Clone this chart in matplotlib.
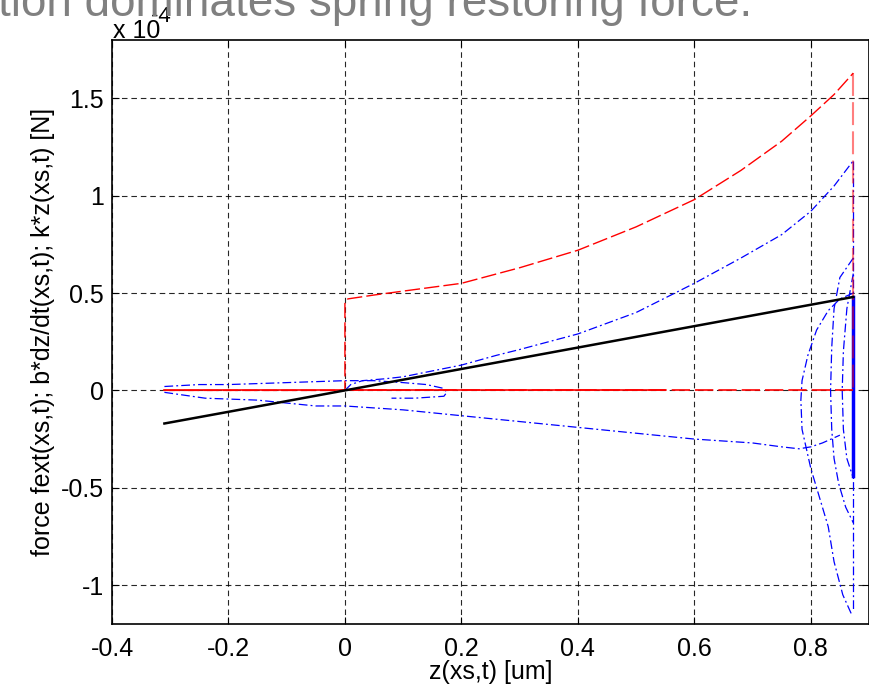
import matplotlib
matplotlib.use('Agg')
import matplotlib.pyplot as plt

plt.rcParams['font.family'] = ['Liberation Sans', 'DejaVu Sans']

# forces are in units of 1e-4 N, displacement z in um
# k*z (spring)
kz_z = [-0.31, -0.2, 0.0, 0.2, 0.4, 0.6, 0.8, 0.873]
kz_f = [-0.17, -0.11, 0.0, 0.11, 0.22, 0.33, 0.44, 0.48]

# fext
fext_z = [-0.31, 0.0, 0.0, 0.005, 0.05, 0.1, 0.2, 0.3, 0.4, 0.5, 0.6, 0.68, 0.75, 0.8, 0.84, 0.873]
fext_f = [0.0, 0.0, 0.45, 0.47, 0.49, 0.51, 0.55, 0.63, 0.72, 0.84, 0.98, 1.13, 1.28, 1.41, 1.52, 1.63]
fext_zero_z = [-0.31, 0.55]
fext_tail_z = [0.0, 0.873]
fext_drop_f = [1.63, 0.0]

# b*dz/dt branches
damp1_z = [-0.31, -0.25, -0.2, -0.1, 0.0, 0.05, 0.1, 0.14, 0.17, 0.175, 0.17, 0.12, 0.08]
damp1_f = [0.02, 0.03, 0.03, 0.04, 0.05, 0.05, 0.04, 0.03, 0.01, -0.01, -0.03, -0.04, -0.04]
damp2_z = [-0.31, -0.24, -0.15, -0.05, 0.0, 0.1, 0.2, 0.3, 0.4, 0.5, 0.6, 0.7, 0.75, 0.78, 0.8, 0.82, 0.85]
damp2_f = [-0.01, -0.04, -0.05, -0.08, -0.08, -0.10, -0.13, -0.16, -0.19, -0.22, -0.25, -0.27, -0.29, -0.30, -0.29, -0.27, -0.23]
damp3_z = [0.0, 0.01, 0.03, 0.07, 0.1, 0.15, 0.2, 0.26, 0.3, 0.4, 0.5, 0.6, 0.68, 0.75, 0.8, 0.84, 0.873]
damp3_f = [0.0, 0.03, 0.05, 0.06, 0.07, 0.1, 0.13, 0.18, 0.21, 0.29, 0.4, 0.55, 0.68, 0.8, 0.92, 1.05, 1.18]
arc1_z = [0.873, 0.85, 0.83, 0.81, 0.795, 0.785, 0.783, 0.785, 0.80, 0.815, 0.83, 0.84, 0.855, 0.87]
arc1_f = [0.5, 0.47, 0.41, 0.31, 0.18, 0.05, -0.05, -0.2, -0.4, -0.55, -0.7, -0.88, -1.05, -1.15]
arc2_z = [0.873, 0.85, 0.84, 0.836, 0.834, 0.836, 0.84, 0.848, 0.86, 0.873]
arc2_f = [0.68, 0.58, 0.42, 0.22, 0.0, -0.2, -0.35, -0.48, -0.6, -0.68]
arc3_z = [0.873, 0.862, 0.856, 0.854, 0.856, 0.862, 0.873]
arc3_f = [0.6, 0.42, 0.2, 0.0, -0.2, -0.35, -0.45]
zend = [0.873, 0.873]
damp_dense_f = [0.48, -0.44]
damp_span_f = [1.18, -1.13]

xticks = [-0.4, -0.2, 0, 0.2, 0.4, 0.6, 0.8]
yticks = [-1, -0.5, 0, 0.5, 1, 1.5]

fig = plt.figure(figsize=(8.7, 6.95), dpi=100)
ax = fig.add_axes([112 / 870, 71 / 695, 757 / 870, 584 / 695])

blue_ls = (0, (7, 2.5, 1.5, 2.5))
red_ls = (0, (11, 3))
for z, f in [(damp1_z, damp1_f), (damp2_z, damp2_f), (damp3_z, damp3_f),
             (arc1_z, arc1_f), (arc2_z, arc2_f), (arc3_z, arc3_f), (zend, damp_span_f)]:
    ax.plot(z, f, color='blue', lw=0.9, ls=blue_ls)
ax.plot(zend, damp_dense_f, color='blue', lw=2.5)

ax.plot(fext_z, fext_f, color='red', lw=1.0, ls=red_ls)
ax.plot(fext_zero_z, [0, 0], color='red', lw=1.2)
ax.plot(fext_tail_z, [0, 0], color='red', lw=1.2, ls=red_ls)
ax.plot(zend, fext_drop_f, color='red', lw=1.5, ls=red_ls, alpha=0.5)

ax.plot(kz_z, kz_f, color='black', lw=1.8)

ax.set_xlim(-0.4, 0.9)
ax.set_ylim(-1.2, 1.8)
ax.set_xticks(xticks)
ax.set_xticklabels(['%g' % v for v in xticks])
ax.set_yticks(yticks)
ax.set_yticklabels(['%g' % v for v in yticks])
ax.grid(True, color='k', ls=(0, (5, 3.5)), lw=0.8, alpha=0.85)
ax.tick_params(direction='in', length=5, width=0.8, top=True, right=True,
               labelsize=18)
ax.tick_params(axis='x', pad=9)
ax.tick_params(axis='y', pad=6)
for s in ax.spines.values():
    s.set_linewidth(1.2)

ax.set_xlabel('z(xs,t) [um]', fontsize=18, labelpad=0)
ax.set_ylabel('force fext(xs,t); b*dz/dt(xs,t); k*z(xs,t) [N]', fontsize=18, labelpad=4)

fig.text(113 / 870, 1 - 38 / 695, 'x 10', fontsize=18, ha='left', va='baseline')
fig.text(151 / 870, 1 - 22 / 695, '-4', fontsize=16, ha='left', va='baseline')
fig.text(752 / 870, 1 - 16 / 695, 'tion dominates spring restoring force.',
         fontsize=33, color='#808080', ha='right', va='baseline')

fig.savefig('out.png', dpi=100)
